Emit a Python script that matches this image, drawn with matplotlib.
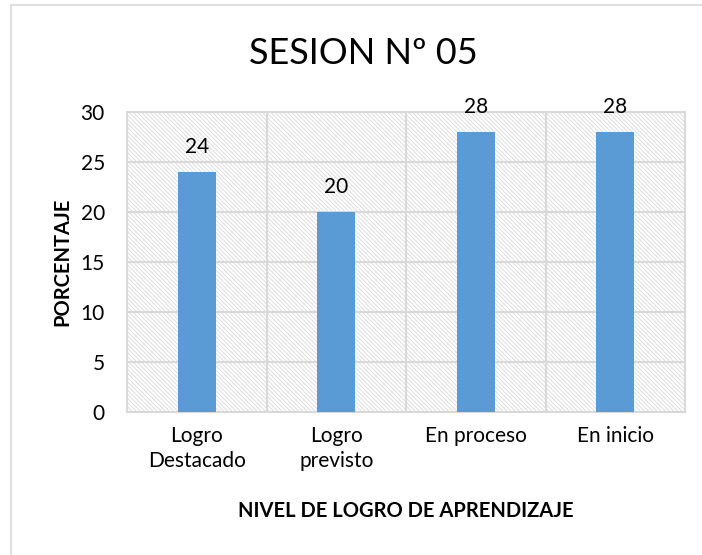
import matplotlib
matplotlib.use("Agg")
import matplotlib.pyplot as plt
from matplotlib.patches import Rectangle

categories = ["Logro\nDestacado", "Logro\nprevisto", "En proceso", "En inicio"]
values = [24, 20, 28, 28]
yticks = [0, 5, 10, 15, 20, 25, 30]
title = "SESION Nº 05"
xlabel = "NIVEL DE LOGRO DE APRENDIZAJE"
ylabel = "PORCENTAJE"

plt.rcParams['font.family'] = ['Lato', 'DejaVu Sans']
plt.rcParams['hatch.color'] = '#dedede'
plt.rcParams['hatch.linewidth'] = 0.7

fig = plt.figure(figsize=(7.02, 5.55), dpi=100)
# outer chart border (left/top visible)
fig.patches.append(Rectangle((11/702, -0.1), 1.2, 1 - 5/555 + 0.1, transform=fig.transFigure,
                             fill=False, edgecolor='#d9d9d9', linewidth=1.2))

ax = fig.add_axes([127/702, 1 - 412/555, 558/702, 300/555])
ax.set_facecolor('white')
ax.patch.set_hatch('\\\\\\\\\\\\\\\\')
ax.patch.set_edgecolor('#dedede')
ax.patch.set_linewidth(0)

x = list(range(len(categories)))
bars = ax.bar(x, values, width=0.27, color='#5b9bd5', zorder=3)
ax.set_xlim(-0.5, len(categories) - 0.5)
ax.set_ylim(0, 30)
ax.set_yticks(yticks)
ax.set_xticks(x)
ax.set_xticklabels(categories, fontsize=15, linespacing=1.3)
ax.tick_params(axis='y', labelsize=15, length=0, pad=16)
ax.tick_params(axis='x', length=0, pad=10)

for yv in yticks[1:]:
    ax.axhline(yv, color='#d9d9d9', linewidth=1.5, zorder=1)
for xv in [0.5, 1.5, 2.5]:
    ax.axvline(xv, color='#d9d9d9', linewidth=1.5, zorder=1)

for s in ['top', 'right', 'left', 'bottom']:
    ax.spines[s].set_color('#d9d9d9')
    ax.spines[s].set_linewidth(1.5)

for xi, v in zip(x, values):
    ax.text(xi, v + 1.5, str(v), ha='center', va='bottom', fontsize=15, zorder=4)

ax.set_xlabel(xlabel, fontsize=14.5, fontweight='bold', labelpad=22)
ax.set_ylabel(ylabel, fontsize=14.5, fontweight='bold', labelpad=6)
fig.text(363/702, 1 - 54/555, title, ha='center', va='center', fontsize=26)

fig.savefig("out.png", dpi=100)
